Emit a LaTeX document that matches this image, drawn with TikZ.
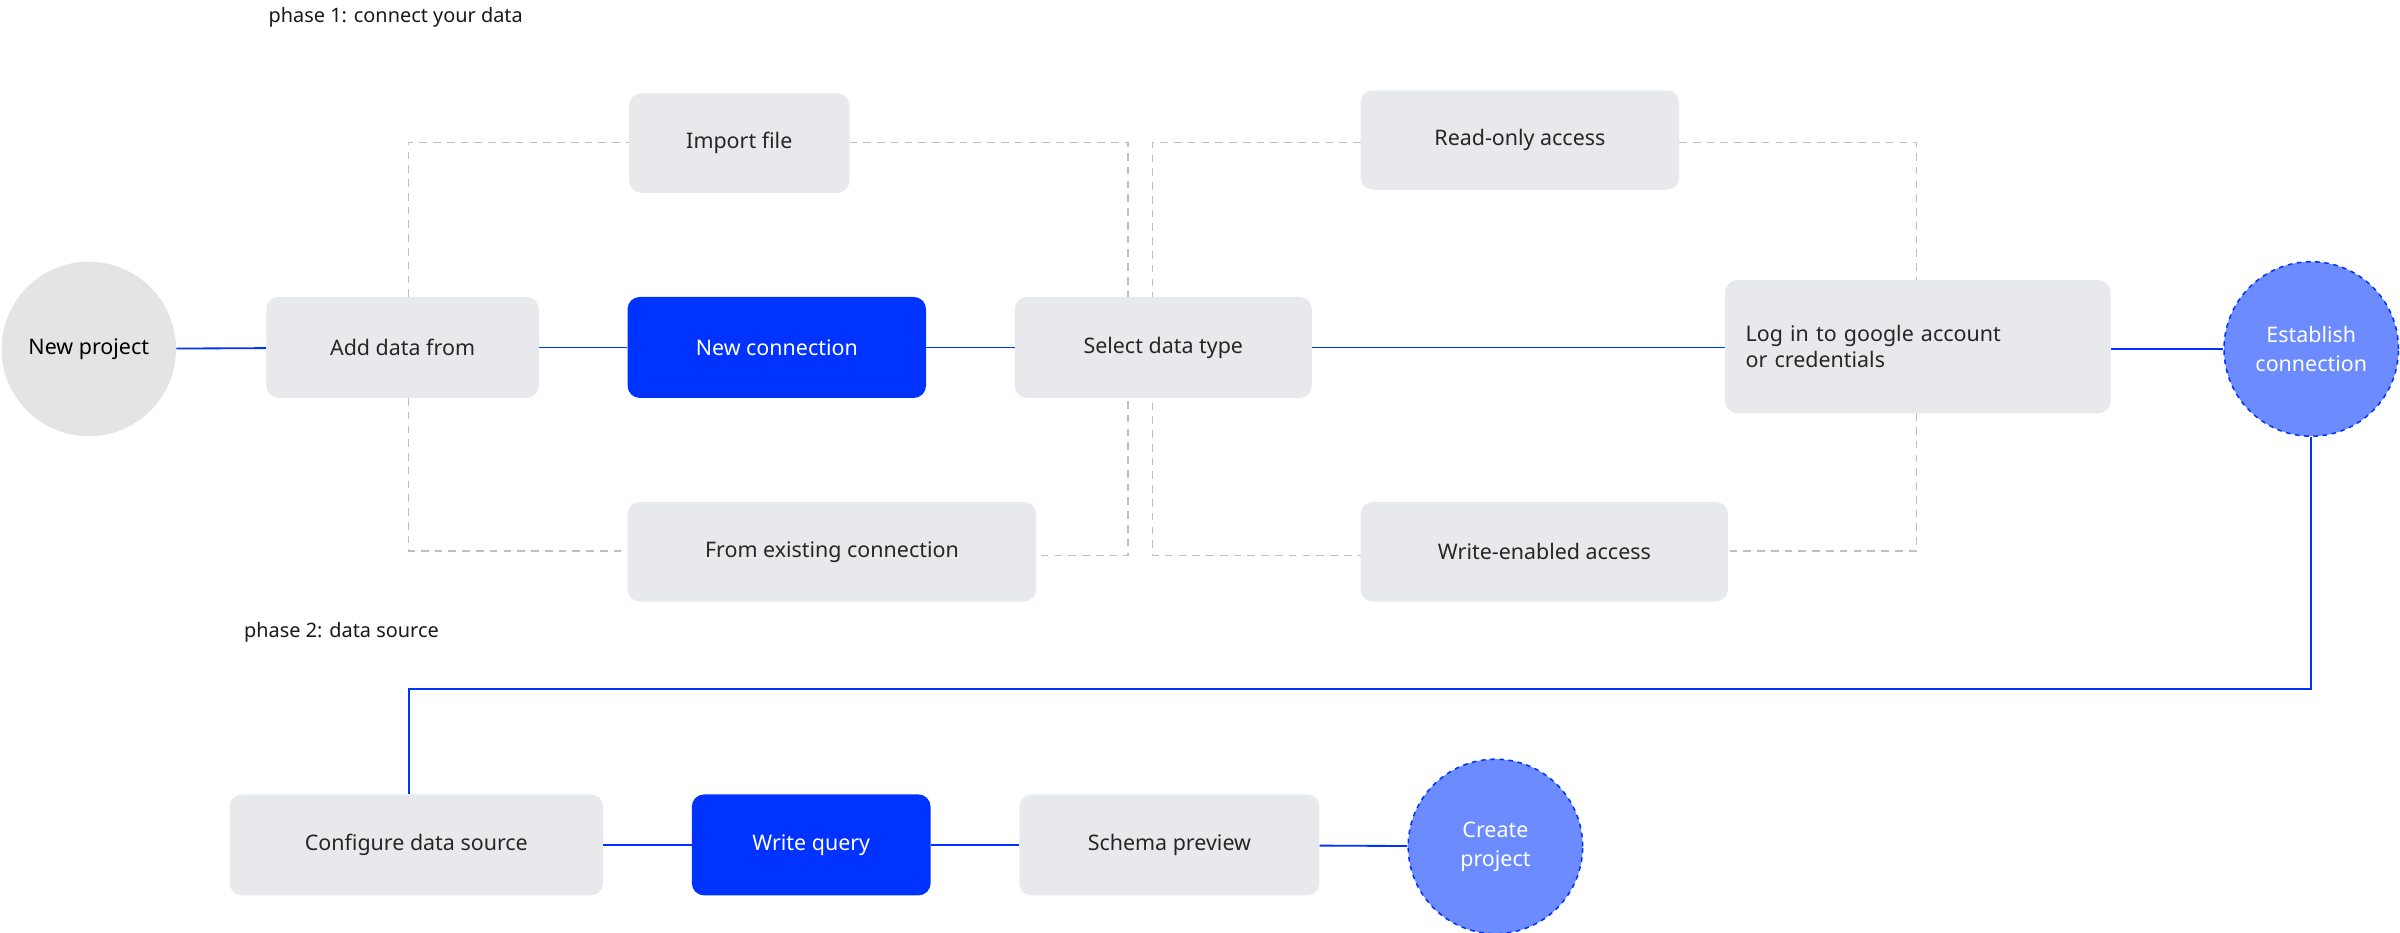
\documentclass[tikz,border=0pt]{standalone}
\usepackage{fontspec}
\setmainfont{Noto Sans}
\begin{document}
\begin{tikzpicture}[x=1pt,y=-1pt,
  box/.style={draw=none,fill=boxgray,rounded corners=8pt,font=\fontsize{14}{17}\selectfont,text=black!85,inner sep=0pt},
  bluebox/.style={box,fill=brightblue,text=white},
  circ/.style={circle,inner sep=0pt,minimum size=114pt,align=center,font=\fontsize{14}{19}\selectfont},
  flow/.style={draw=brightblue,line width=1.2pt},
  alt/.style={draw=black!25,line width=1pt,dash pattern=on 5pt off 4pt},
  lbl/.style={anchor=west,font=\fontsize{13}{16}\selectfont,text=black!90}]
\definecolor{boxgray}{HTML}{E8E9EC}
\definecolor{brightblue}{HTML}{0033FF}
\definecolor{lightblue}{HTML}{6B8BFF}
\definecolor{circgray}{HTML}{E4E4E4}
\useasboundingbox (0,0) rectangle (1568,609);
% dashed alternative routes (behind)
\draw[alt] (267,194) -- (267,93) -- (411,93);
\draw[alt] (555,93) -- (737,93) -- (737,363) -- (677,363);
\draw[alt] (267,260) -- (267,360) -- (410,360);
\draw[alt] (889,93) -- (753,93) -- (753,363) -- (889,363);
\draw[alt] (1097,93) -- (1252,93) -- (1252,183);
\draw[alt] (1252,270) -- (1252,360) -- (1129,360);
% nodes
\node[circ,fill=circgray] (np) at (58,228) {New project};
\node[box,minimum width=178pt,minimum height=66pt] (add) at (263,227) {Add data from};
\node[box,minimum width=144pt,minimum height=65pt] (imp) at (483,93.5) {Import file};
\node[bluebox,minimum width=195pt,minimum height=66pt] (nc) at (507.5,227) {New connection};
\node[box,minimum width=267pt,minimum height=65pt] (fec) at (543.5,360.5) {From existing connection};
\node[box,minimum width=194pt,minimum height=66pt] (sdt) at (760,227) {Select data type};
\node[box,minimum width=208pt,minimum height=65pt] (ro) at (993,91.5) {Read-only access};
\node[box,minimum width=240pt,minimum height=65pt] (we) at (1009,360.5) {Write-enabled access};
\node[box,minimum width=252pt,minimum height=87pt,align=left,text width=225pt] (log) at (1253,226.5) {Log in to google account\\or credentials};
\node[circ,fill=lightblue,draw=brightblue,dashed,line width=1pt,text=white] (est) at (1510,228) {Establish\\connection};
\node[box,minimum width=244pt,minimum height=66pt] (cfg) at (272,552) {Configure data source};
\node[bluebox,minimum width=156pt,minimum height=66pt] (wq) at (530,552) {Write query};
\node[box,minimum width=196pt,minimum height=66pt] (sp) at (764,552) {Schema preview};
\node[circ,fill=lightblue,draw=brightblue,dashed,line width=1pt,text=white] (cp) at (977,553) {Create\\project};
% labels
\node[lbl] (l1) at (172,11) {phase 1: connect your data};
\node[lbl] (l2) at (156,413) {phase 2: data source};
% flow
\draw[flow] (np) -- (add);
\draw[flow] (add) -- (nc);
\draw[flow] (nc) -- (sdt);
\draw[flow] (sdt) -- (log.west |- sdt);
\draw[flow] (log.east |- est) -- (est);
\draw[flow] (est.south) -- (1510,450) -- (267,450) -- (267,519);
\draw[flow] (cfg) -- (wq);
\draw[flow] (wq) -- (sp);
\draw[flow] (sp) -- (cp);
\end{tikzpicture}
\end{document}
